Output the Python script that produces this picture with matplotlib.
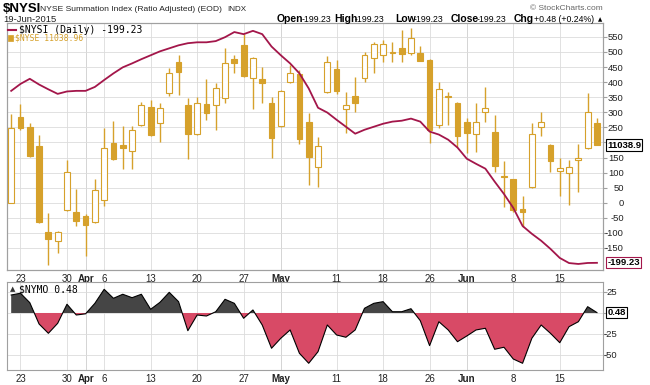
import matplotlib
matplotlib.use("Agg")
import matplotlib.pyplot as plt
from matplotlib.lines import Line2D
from matplotlib.patches import Rectangle

plt.rcParams['font.family'] = ['Liberation Sans', 'DejaVu Sans']
NARROW = ['Liberation Sans Narrow', 'Liberation Sans']

# 64 sessions, 20-Mar-2015 .. 19-Jun-2015 (index = trading day)
tick_pos = [1, 6, 8, 10, 15, 20, 25, 29, 35, 40, 45, 49, 54, 59]
tick_lab = ['23', '30', 'Apr', '6', '13', '20', '27', 'May', '11', '18', '26', 'Jun', '8', '15']
month_lab = ['Apr', 'May', 'Jun']

# $NYSI summation index (daily close)
nysi = [371, 394, 411, 392, 376, 361, 369, 371, 371, 384,
        407, 429, 449, 462, 476, 489, 502, 512, 522, 529,
        532, 532, 536, 549, 566, 559, 570, 559, 518, 489,
        462, 429, 379, 315, 299, 275, 252, 229, 242, 252,
        262, 269, 272, 279, 269, 236, 226, 209, 183, 146,
        129, 113, 70, 29, -17, -77, -103, -126, -153, -183,
        -200, -203, -199.71, -199.23]

# $NYSE overlay candles
nyse_open = [10923, 11095, 11075, 11037, 10865, 10847, 10909, 10905, 10897, 10885,
             10929, 11043, 11039, 11027, 11079, 11115, 11083, 11143, 11205, 11119,
             11061, 11121, 11119, 11133, 11211, 11239, 11173, 11171, 11123, 11077,
             11165, 11181, 11085, 10995, 11145, 11191, 11111, 11137, 11173, 11213,
             11219, 11223, 11233, 11223, 11223, 11209, 11079, 11137, 11123, 11085,
             11061, 11105, 11065, 10977, 10971, 10911, 10955, 11075, 11039, 10987,
             10983, 11009, 11033, 11083]
nyse_high = [11101, 11121, 11083, 11059, 10903, 10867, 11009, 10951, 10901, 10971,
             11073, 11087, 11077, 11077, 11125, 11129, 11123, 11193, 11219, 11133,
             11135, 11171, 11163, 11233, 11219, 11261, 11215, 11195, 11135, 11149,
             11199, 11189, 11103, 11055, 11217, 11209, 11145, 11175, 11225, 11245,
             11249, 11245, 11269, 11273, 11237, 11211, 11165, 11145, 11125, 11093,
             11123, 11155, 11099, 11007, 10971, 10937, 11083, 11105, 11041, 11013,
             11009, 11041, 11143, 11093]
nyse_low = [10923, 11069, 11015, 10883, 10799, 10823, 10907, 10877, 10817, 10883,
            10917, 11009, 10991, 10991, 11077, 11057, 11045, 11137, 11139, 11011,
            11059, 11089, 11069, 11123, 11183, 11175, 11111, 11123, 11013, 11075,
            11163, 11041, 10959, 10955, 11143, 11141, 11063, 11105, 11165, 11183,
            11205, 11205, 11205, 11219, 11207, 11043, 11073, 11079, 11035, 11023,
            11025, 11085, 10985, 10915, 10905, 10875, 10953, 11057, 10985, 10937,
            10919, 10945, 11031, 11039]
nyse_close = [11073, 11073, 11017, 10885, 10851, 10865, 10985, 10887, 10879, 10949,
              11033, 11011, 11033, 11069, 11119, 11059, 11113, 11183, 11185, 11061,
              11123, 11103, 11153, 11203, 11203, 11177, 11213, 11163, 11053, 11147,
              11183, 11051, 11015, 11037, 11205, 11147, 11119, 11123, 11219, 11241,
              11241, 11225, 11221, 11253, 11207, 11069, 11151, 11135, 11057, 11063,
              11085, 11113, 10997, 10975, 10909, 10905, 11061, 11085, 11007, 10993,
              10995, 11013, 11105, 11038.96]

# $NYMO McClellan oscillator
nymo = [21.4, 23.5, 12.3, -13.1, -24.2, -12.3, 10.4, -2.4, -1.0, 11.5,
        28.2, 17.5, 22.3, 18.2, 22.3, 4.4, 12.7, 24.6, 13.5, -21.1,
        -2.4, -3.6, 1.5, 16.3, 11.5, -6.3, 3.6, -14.3, -42.0, -30.1,
        -20.2, -48.0, -59.9, -46.1, -14.3, -26.2, -28.9, -20.2, 5.6, 11.5,
        13.5, 1.5, 1.5, 5.1, -9.2, -38.9, -10.4, -20.2, -34.2, -27.4,
        -20.2, -18.2, -43.2, -40.8, -54.8, -59.9, -30.1, -14.3, -24.2, -35.4,
        -16.3, -10.4, 7.5, 0.48]

nysi_ticks = list(range(-150, 551, 50))
nymo_ticks = [25, 0, -25, -50]

gold = '#d6a12b'
maroon = '#a3164a'
grid_c = '#dcdcdc'
month_c = '#b4b4b4'
spine_c = '#a0a0a0'
txt_c = '#222222'

W, H = 650, 385


def fx(px):
    return px / W


def fy(py):
    return 1 - py / H


fig = plt.figure(figsize=(6.5, 3.85), dpi=100)
x = list(range(len(nysi)))

# ---- top panel ----
ax = fig.add_axes([fx(7), fy(270), (603 - 7) / W, (270 - 23) / H])
axc = ax.twinx()
axl = ax.twinx()

ax.set_xlim(-0.45, 63.65)
ax.set_ylim(-223, 596)
axl.set_ylim(ax.get_ylim())
axc.set_ylim(10789, 11283)

ax.set_xticks(tick_pos)
ax.set_xticklabels(tick_lab)
ax.yaxis.tick_right()
ax.set_yticks(nysi_ticks)
ax.set_yticklabels(['' if t == 200 else str(t) for t in nysi_ticks])
ax.grid(True, color=grid_c, lw=0.6)
ax.set_axisbelow(True)
for p, lab in zip(tick_pos, tick_lab):
    if lab in month_lab:
        ax.axvline(p, color=month_c, lw=0.7, zorder=0)

axc.tick_params(right=False, labelright=False)
axl.set_axis_off()

# candles
up = [cl >= op for op, cl in zip(nyse_open, nyse_close)]
axc.vlines(x, nyse_low, nyse_high, color=gold, lw=1.0, zorder=2)
bottoms = [min(op, cl) for op, cl in zip(nyse_open, nyse_close)]
heights = [max(abs(cl - op), 2) for op, cl in zip(nyse_open, nyse_close)]
axc.bar(x, heights, bottom=bottoms, width=0.62,
        color=['white' if u else gold for u in up],
        edgecolor=gold, linewidth=0.8, zorder=3)

axl.plot(x, nysi, color=maroon, lw=1.3)

# ---- bottom panel ----
axm = fig.add_axes([fx(7), fy(370), (603 - 7) / W, (370 - 282) / H])
axm.set_xlim(ax.get_xlim())
axm.set_ylim(-67.9, 36.9)
axm.fill_between(x, nymo, 0, where=[v >= 0 for v in nymo], interpolate=True,
                 color='#454545', lw=0)
axm.fill_between(x, nymo, 0, where=[v <= 0 for v in nymo], interpolate=True,
                 color='#d84a66', lw=0)
axm.plot(x, nymo, color='black', lw=0.8)
axm.set_xticks(tick_pos)
axm.set_xticklabels(tick_lab)
axm.yaxis.tick_right()
axm.set_yticks(nymo_ticks)
axm.set_yticklabels(['' if t == 0 else str(t) for t in nymo_ticks])
axm.grid(True, color=grid_c, lw=0.6)
axm.set_axisbelow(True)
for p, lab in zip(tick_pos, tick_lab):
    if lab in month_lab:
        axm.axvline(p, color=month_c, lw=0.7, zorder=0)

for a, ypad in ((ax, 12), (axm, 7)):
    for s in a.spines.values():
        s.set_color(spine_c)
    a.tick_params(axis='x', length=0, pad=3, labelsize=7, labelcolor=txt_c)
    a.tick_params(axis='y', length=3, color=spine_c, pad=ypad, labelsize=6.8,
                  labelcolor=txt_c)
    for t in a.get_yticklabels():
        t.set_ha('right')
    for t in a.get_xticklabels():
        if t.get_text() in month_lab:
            t.set_fontweight('bold')
for a in (axc, axl):
    for s in a.spines.values():
        s.set_color(spine_c)

# value tags on the right axis
tag = dict(xytext=(3, 0), textcoords='offset points', ha='left', va='center',
           fontsize=6.8, fontweight='bold', color='black', annotation_clip=False)
axc.annotate(str(nyse_close[-1])[:7], xy=(1, nyse_close[-1]),
             xycoords=('axes fraction', 'data'),
             bbox=dict(boxstyle='square,pad=0.12', fc='white', ec='black', lw=0.8), **tag)
axl.annotate(f'{nysi[-1]:.2f}', xy=(1, nysi[-1]),
             xycoords=('axes fraction', 'data'),
             bbox=dict(boxstyle='square,pad=0.12', fc='white', ec=maroon, lw=0.8), **tag)
axm.annotate(f'{nymo[-1]:.2f}', xy=(1, nymo[-1]),
             xycoords=('axes fraction', 'data'),
             bbox=dict(boxstyle='square,pad=0.12', fc='white', ec='black', lw=0.8), **tag)

# ---- header ----
fig.text(fx(3), fy(9), '\\$NYSI', fontsize=9.5, fontweight='bold', va='center',
         color='black', family=NARROW)
ttl = fig.text(fx(40), fy(9.5), 'NYSE Summation Index (Ratio Adjusted) (EOD)',
               fontsize=6.1, va='center', color=txt_c, family=NARROW)
fig.text(0, 0, '').set_visible(False)
ax.annotate('INDX', xy=(1, 0.5), xycoords=ttl, xytext=(4, 0),
            textcoords='offset points', ha='left', va='center', fontsize=5.8,
            color=txt_c, family=NARROW, annotation_clip=False)
fig.text(fx(3), fy(19), '19-Jun-2015', fontsize=6.8, va='center', color=txt_c,
         family=NARROW)
fig.text(fx(603), fy(8), '\u00a9 StockCharts.com', fontsize=6, va='center', ha='right',
         color='#666666', family=NARROW)

last = nysi[-1]
chg = nysi[-1] - nysi[-2]
pct = chg / abs(nysi[-2]) * 100
head = [('Open', 277, True), (f'{last:.2f}', 302, False),
        ('High', 334, True), (f'{last:.2f}', 355, False),
        ('Low', 395, True), (f'{last:.2f}', 414, False),
        ('Close', 451, True), (f'{last:.2f}', 477, False),
        ('Chg', 514, True), (f'{chg:+.2f} ({pct:+.2f}%)', 534, False)]
for s, px, b in head:
    fig.text(fx(px), fy(19), s, fontsize=7.5 if b else 6.3, va='center',
             fontweight='bold' if b else 'normal', color='black', family=NARROW)
fig.text(fx(598), fy(19.5), '\u25b2', fontsize=4, va='center', color='black',
         family=['DejaVu Sans'])

# ---- in-panel legends ----
fig.add_artist(Line2D([fx(8), fx(16)], [fy(30), fy(30)], color=maroon, lw=1.5))
fig.text(fx(19), fy(30), f'\\$NYSI (Daily) {nysi[-1]:.2f}', fontsize=7, va='center',
         color='black', family=['DejaVu Sans Mono'])
fig.add_artist(Rectangle((fx(8), fy(41)), 5 / W, 6 / H, fc=gold, ec=gold, lw=0.5))
fig.text(fx(15), fy(38), f'\\$NYSE {nyse_close[-1]:.2f}', fontsize=5.8, va='center',
         color=gold, family=['DejaVu Sans Mono'])
fig.text(fx(10), fy(289), '\u25b2', fontsize=5, va='center', color='#333333',
         family=['DejaVu Sans'])
fig.text(fx(19), fy(289), f'\\$NYMO {nymo[-1]:.2f}', fontsize=7, va='center',
         color='black', family=['DejaVu Sans Mono'])

fig.savefig('out.png', dpi=100, facecolor='white')
